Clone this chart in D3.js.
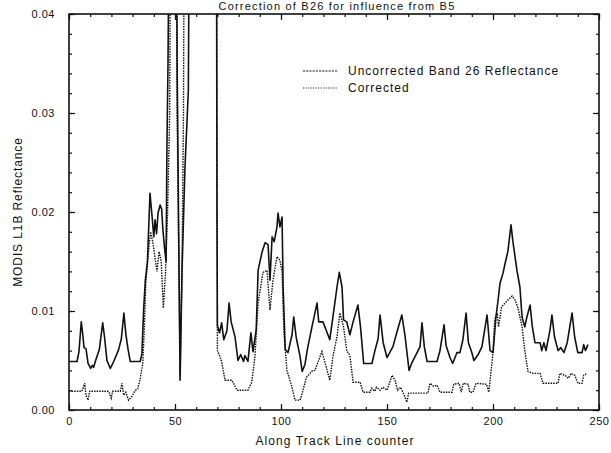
<!DOCTYPE html>
<html>
<head>
<meta charset="utf-8">
<script src="https://cdn.jsdelivr.net/npm/d3@7"></script>
<style>
  body { margin: 0; background: #fff; }
  svg text { font-family: "Liberation Sans", Arial, sans-serif; fill: #111; }
</style>
</head>
<body>
<svg id="chart" width="611" height="453"></svg>
<script>
// values, [line counter, reflectance]
// 0.06 stands for readings that run off the top of the 0.04 axis
const uncorrected = [
  [0,0.0049],[3.8,0.0049],[4.7,0.0059],[5.8,0.0089],[6.4,0.0078],[7.1,0.0063],[8,0.0062],[9,0.0047],
  [10.2,0.0042],[11,0.0045],[11.6,0.0043],[12.4,0.0049],[14.3,0.0061],[15.9,0.0088],[16.8,0.0073],
  [17.9,0.005],[19.5,0.0042],[21.1,0.0049],[23.4,0.0061],[24.7,0.0072],[25.9,0.0098],[26.8,0.0077],
  [27.8,0.0062],[28.9,0.0049],[33.6,0.0049],[34.4,0.0057],[35.2,0.0101],[36,0.0131],[37,0.015],
  [38.2,0.0219],[39,0.020],[40,0.0175],[40.6,0.0192],[41.3,0.0178],[42,0.0199],[43,0.0207],
  [43.7,0.0203],[44.3,0.0182],[45,0.0165],[45.8,0.015],[46.2,0.0266],[46.7,0.035],[47.6,0.06],
  [50.5,0.06],[51,0.035],[52.4,0.003],[53.3,0.014],[54.7,0.0245],[56.3,0.0323],[57,0.06],
  [69.5,0.06],[69.8,0.02],[70,0.0085],[71,0.0078],[72,0.0088],[73,0.0071],[74.5,0.008],[75.5,0.0108],
  [76.5,0.0089],[78.3,0.0074],[79.7,0.005],[81,0.0056],[82.3,0.0049],[83,0.0055],[84.4,0.0049],
  [85.8,0.0078],[86.8,0.0059],[88.3,0.0081],[89.2,0.0141],[91,0.0159],[92.5,0.0169],[93.9,0.0167],
  [94.8,0.0131],[95.8,0.0175],[96.8,0.017],[98.1,0.0185],[98.6,0.0199],[99.5,0.0185],[100.5,0.0195],
  [101,0.0124],[102,0.0061],[103.3,0.0058],[105.2,0.0076],[106,0.0094],[107.2,0.0073],[109,0.0054],
  [110,0.0039],[111.3,0.0046],[112.5,0.0062],[114.6,0.0084],[117,0.0108],[117.8,0.0089],[119.8,0.0089],
  [121.6,0.0079],[123,0.0071],[124.5,0.0094],[126.4,0.0124],[127.5,0.0139],[128.8,0.0124],[129.5,0.0091],
  [131,0.0089],[132.5,0.0076],[134,0.0089],[136.3,0.0106],[137.5,0.0084],[139,0.0047],[142.9,0.0047],
  [144.3,0.006],[145.8,0.0072],[146.7,0.0096],[148.2,0.0068],[150,0.0053],[152.8,0.0064],[155,0.0081],
  [157,0.0096],[158.5,0.0075],[160.4,0.004],[161.6,0.0047],[165.6,0.0064],[166.5,0.0088],[167.6,0.0064],
  [168.9,0.0049],[173.6,0.0049],[175,0.006],[176.9,0.0086],[177.9,0.0065],[179.7,0.0053],[181,0.0047],
  [183,0.0058],[184.4,0.0058],[185.8,0.0071],[187.3,0.0098],[188.4,0.0068],[190,0.0058],[191,0.005],
  [193,0.0056],[194.8,0.0064],[197.2,0.0096],[198.6,0.006],[200,0.0058],[201.4,0.0094],[202.4,0.0111],
  [203.3,0.0128],[204.7,0.0138],[205.7,0.0148],[207,0.016],[208.5,0.0187],[209.4,0.017],[211.3,0.0141],
  [212.7,0.0124],[213.7,0.0094],[215,0.0084],[216,0.0094],[217.5,0.0106],[218.5,0.0085],[219.8,0.0068],
  [222.2,0.0068],[223,0.006],[224,0.0068],[225,0.006],[226.9,0.0081],[227.8,0.0096],[229,0.0074],
  [230.7,0.006],[232,0.0063],[233.5,0.0058],[235,0.0068],[237.3,0.0098],[238.5,0.0074],[240,0.0058],
  [242,0.0058],[242.8,0.0066],[243.6,0.006],[244.8,0.0066]
];

const corrected = [
  [0,0.0019],[6.1,0.0019],[7.4,0.0027],[8,0.0015],[9,0.001],[9.8,0.0019],[18.7,0.0019],[19.9,0.0012],
  [20.6,0.0019],[24.2,0.0019],[25,0.0027],[25.8,0.0015],[26.8,0.0018],[28.1,0.001],[29.5,0.0013],
  [31,0.0019],[32.5,0.0022],[33.6,0.0032],[34.8,0.0047],[35.5,0.0081],[36.3,0.0131],[37.5,0.016],
  [38.5,0.018],[39.5,0.017],[40.5,0.0155],[41.5,0.014],[42.5,0.016],[43.5,0.015],[44.5,0.0103],
  [45.5,0.0138],[46.5,0.02],[47.5,0.03],[48,0.06],[50.5,0.06],[51,0.03],[52.4,0.0035],[53.3,0.014],
  [54,0.03],[54.5,0.06],[69.5,0.06],[70,0.006],[71,0.0055],[72,0.0049],[73.6,0.003],[76.9,0.003],
  [79.2,0.002],[84.4,0.002],[86.2,0.0028],[87.7,0.0054],[89.2,0.0108],[91.5,0.0139],[93.4,0.0141],
  [94.8,0.0101],[96.2,0.0131],[98.1,0.0155],[99.5,0.0151],[100.5,0.014],[101.4,0.0078],[102.8,0.004],
  [105.2,0.0023],[106.6,0.001],[109,0.001],[110,0.0017],[112,0.0033],[115,0.004],[116,0.004],
  [119.3,0.0059],[120.5,0.005],[123,0.003],[124.5,0.0054],[126.4,0.0074],[127.8,0.0098],[129.5,0.0084],
  [131,0.006],[132.5,0.0055],[134,0.0028],[137.3,0.0028],[138.7,0.0018],[142,0.0018],[142.8,0.0022],
  [144.3,0.0019],[145,0.0023],[146.7,0.002],[148,0.0023],[150,0.002],[152.4,0.0035],[153.8,0.003],
  [155,0.002],[156.5,0.0023],[158.5,0.0013],[159.4,0.0008],[160.2,0.0017],[164.6,0.0017],[169.3,0.0017],
  [170.3,0.0027],[171.9,0.0024],[173.6,0.0025],[175,0.0018],[180.7,0.0018],[181.5,0.0026],[184,0.0027],
  [185,0.0018],[186,0.0027],[188.3,0.0026],[189,0.0018],[190.6,0.0018],[192,0.0027],[197,0.0026],
  [198,0.0018],[198.6,0.0029],[200,0.0058],[200.8,0.0091],[202,0.0098],[202.6,0.0084],[203.3,0.0094],
  [204,0.0104],[205.7,0.0108],[207,0.0111],[209,0.0115],[210.4,0.0111],[211.8,0.0103],[213.7,0.0084],
  [215,0.006],[216.5,0.0039],[218.9,0.0037],[222.2,0.0037],[223.6,0.0027],[230.7,0.0027],[231.5,0.0037],
  [234,0.0035],[235.5,0.0032],[236.8,0.0037],[238.6,0.0035],[240,0.0027],[242,0.0027],[242.8,0.0035],
  [244.3,0.0037]
];

const xTicks = [0, 50, 100, 150, 200, 250];
const yTicks = [0, 0.01, 0.02, 0.03, 0.04];
const seriesNames = ["Uncorrected Band 26 Reflectance", "Corrected"];
const chartTitle = "Correction of B26 for influence from B5";

var margin = {top: 14, right: 12, bottom: 43, left: 69};
var width = 611 - margin.left - margin.right;
var height = 453 - margin.top - margin.bottom;

var svg = d3.select("#chart")
    .append("g")
    .attr("transform", "translate(" + margin.left + "," + margin.top + ")");

let x = d3.scaleLinear().domain([0, 250]).range([0, width]);
let y = d3.scaleLinear().domain([0, 0.04]).range([height, 0]);

svg.append("clipPath").attr("id", "plotClip")
  .append("rect").attr("width", width).attr("height", height);

// minor ticks (inward) on all four sides
const xMinor = d3.range(0, 251, 10);
const yMinor = d3.range(0, 0.0401, 0.002);

function noLabels(g) { g.selectAll("text").remove(); g.select(".domain").remove(); }

svg.append("g").attr("transform", "translate(0," + height + ")")
  .call(d3.axisBottom(x).tickValues(xMinor).tickSize(-3)).call(noLabels);
svg.append("g")
  .call(d3.axisTop(x).tickValues(xMinor).tickSize(-3)).call(noLabels);
svg.append("g")
  .call(d3.axisLeft(y).tickValues(yMinor).tickSize(-3)).call(noLabels);
svg.append("g").attr("transform", "translate(" + width + ",0)")
  .call(d3.axisRight(y).tickValues(yMinor).tickSize(-3)).call(noLabels);

// major ticks
svg.append("g").attr("class", "xaxis").attr("transform", "translate(0," + height + ")")
  .call(d3.axisBottom(x).tickValues(xTicks).tickSize(-6).tickPadding(7).tickFormat(d3.format("d")));
svg.append("g").attr("class", "yaxis")
  .call(d3.axisLeft(y).tickValues(yTicks).tickSize(-6).tickPadding(14).tickFormat(d3.format(".2f")));
svg.append("g")
  .call(d3.axisTop(x).tickValues(xTicks).tickSize(-6)).call(noLabels);
svg.append("g").attr("transform", "translate(" + width + ",0)")
  .call(d3.axisRight(y).tickValues(yTicks).tickSize(-6)).call(noLabels);

svg.selectAll(".tick line").attr("stroke", "#111").attr("stroke-width", 1.2);
svg.selectAll(".xaxis .domain, .yaxis .domain").remove();
svg.selectAll(".xaxis text, .yaxis text")
  .attr("font-size", "11px").attr("letter-spacing", "0.5px").attr("fill", "#111");

// frame
svg.append("rect")
  .attr("width", width).attr("height", height)
  .attr("fill", "none").attr("stroke", "#111").attr("stroke-width", 1.6);

let line = d3.line().x(d => x(d[0])).y(d => y(d[1]));

let plot = svg.append("g").attr("clip-path", "url(#plotClip)");

plot.append("path")
  .datum(corrected)
  .attr("d", line)
  .attr("fill", "none")
  .attr("stroke", "#111")
  .attr("stroke-width", 1.4)
  .attr("stroke-dasharray", "1.5,1.1");

plot.append("path")
  .datum(uncorrected)
  .attr("d", line)
  .attr("fill", "none")
  .attr("stroke", "#111")
  .attr("stroke-width", 1.6)
  .attr("stroke-linejoin", "round");

// legend
const legendDash = ["2.2,1", "1.2,1.3"];
seriesNames.forEach((name, i) => {
  let ly = 57 + i * 17;
  svg.append("line")
    .attr("x1", 234).attr("x2", 269).attr("y1", ly).attr("y2", ly)
    .attr("stroke", "#222").attr("stroke-width", 1.1)
    .attr("stroke-dasharray", legendDash[i]);
  svg.append("text")
    .attr("x", 279).attr("y", ly + 4)
    .attr("font-size", "12px").attr("letter-spacing", "1px")
    .text(name);
});

// axis titles
svg.append("text")
  .attr("x", width / 2 + 1).attr("y", height + 35)
  .attr("text-anchor", "middle")
  .attr("font-size", "12px").attr("letter-spacing", "1.1px")
  .text("Along Track Line counter");

svg.append("text")
  .attr("transform", "translate(" + (-47) + "," + (height / 2) + ") rotate(-90)")
  .attr("text-anchor", "middle")
  .attr("font-size", "12px").attr("letter-spacing", "0.9px")
  .text("MODIS L1B Reflectance");

svg.append("text")
  .attr("x", 268).attr("y", -4)
  .attr("text-anchor", "middle")
  .attr("font-size", "11px").attr("letter-spacing", "1.2px")
  .text(chartTitle);
</script>
</body>
</html>
